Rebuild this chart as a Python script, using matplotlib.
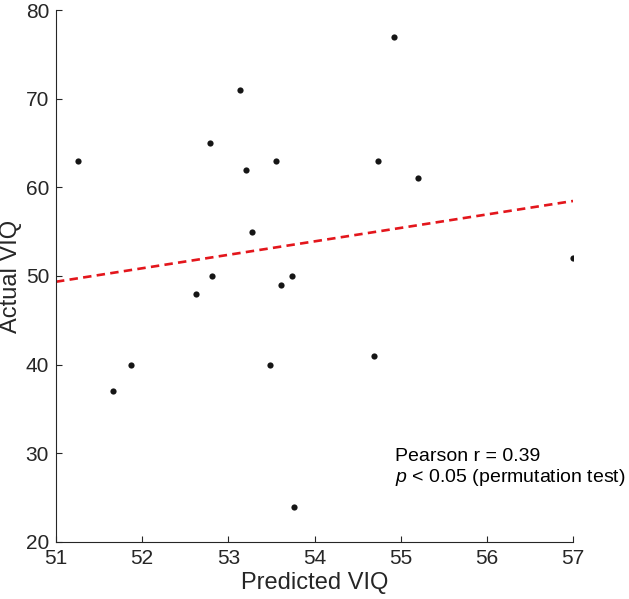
import matplotlib
matplotlib.use("Agg")
import matplotlib.pyplot as plt
import numpy as np

plt.rcParams['font.family'] = ['Liberation Sans', 'DejaVu Sans']
plt.rcParams['mathtext.fontset'] = 'custom'
plt.rcParams['mathtext.it'] = 'Liberation Sans:italic'
plt.rcParams['mathtext.rm'] = 'Liberation Sans'

# predicted vs actual VIQ
predicted = [51.25, 52.79, 53.14, 53.20, 53.55, 53.27, 52.81, 53.61, 53.74, 52.63,
             54.92, 54.74, 55.20, 57.00, 51.87, 51.66, 53.48, 53.76, 54.69]
actual = [63, 65, 71, 62, 63, 55, 50, 49, 50, 48,
          77, 63, 61, 52, 40, 37, 40, 24, 41]

x_ticks = [51, 52, 53, 54, 55, 56, 57]
y_ticks = [20, 30, 40, 50, 60, 70, 80]

dark = '#262626'

fig = plt.figure(figsize=(6.29, 5.99), dpi=100)
ax = fig.add_axes([0.089, 0.0952, 0.822, 0.8881])

ax.scatter(predicted, actual, s=20, color='#151515', zorder=3, linewidths=0)

# least squares fit
slope, intercept = np.polyfit(predicted, actual, 1)
xf = np.array([x_ticks[0], x_ticks[-1]])
ax.plot(xf, slope * xf + intercept, color='#e3161c', lw=1.9, dashes=(3.2, 2.0), zorder=2)

ax.set_xlim(x_ticks[0], x_ticks[-1])
ax.set_ylim(y_ticks[0], y_ticks[-1])
ax.set_xticks(x_ticks)
ax.set_yticks(y_ticks)

for side in ['top', 'right']:
    ax.spines[side].set_visible(False)
for side in ['left', 'bottom']:
    ax.spines[side].set_color(dark)
    ax.spines[side].set_linewidth(0.8)
ax.tick_params(direction='in', length=4, width=0.8, color=dark,
               labelsize=15, labelcolor=dark, pad=5)

ax.set_xlabel('Predicted VIQ', fontsize=17, color=dark, labelpad=3)
# y label sits right at the figure's left edge, as in the original
fig.text(0.0, 0.539, 'Actual VIQ', fontsize=17, color=dark, rotation=90,
         ha='left', va='center')

ax.text(54.93, 29.1, 'Pearson r = 0.39', fontsize=14, color='black', va='baseline')
ax.text(54.93, 26.75, r'$p$ < 0.05 (permutation test)', fontsize=14, color='black',
        va='baseline')

fig.savefig('out.png', dpi=100)
